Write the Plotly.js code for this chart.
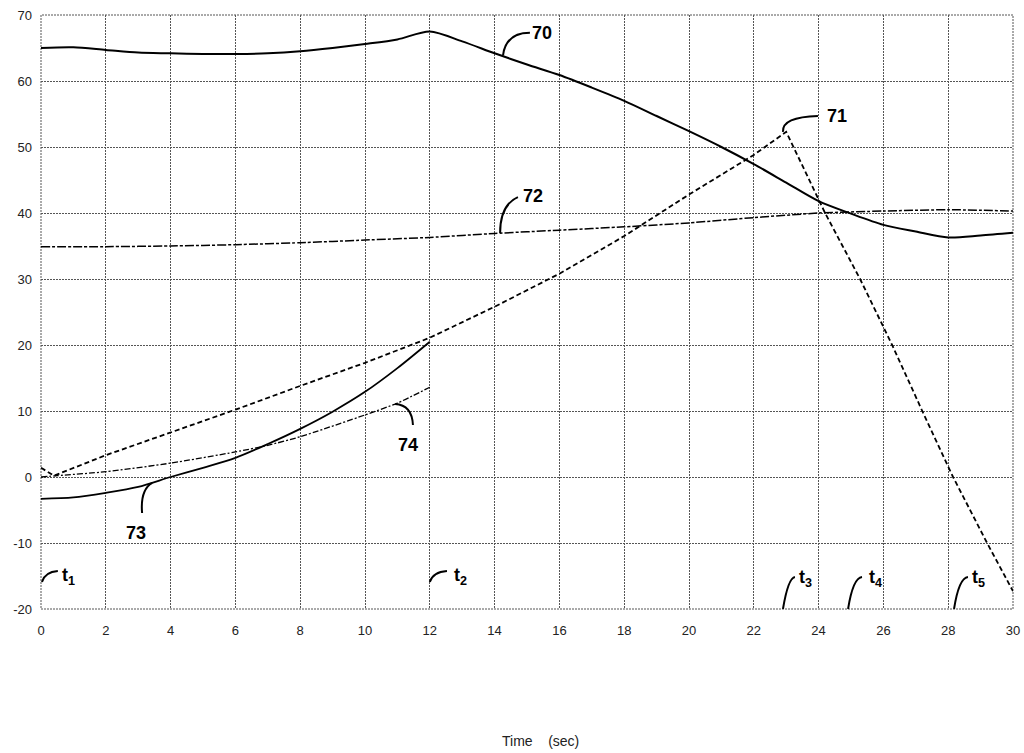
<!DOCTYPE html>
<html>
<head>
<meta charset="utf-8">
<script src="https://cdn.plot.ly/plotly-3.0.1.min.js"></script>
<style>html,body{margin:0;padding:0;background:#fff;}#chart{width:1024px;height:753px;}</style>
</head>
<body>
<div id="chart"></div>
<script>
// ---- data ----
const x70 = [0,1,2,3,4,5,6,7,8,9,10,11,12,13,14,15,16,17,18,19,20,21,22,23,24,25,26,27,28,29,30];
const y70 = [65.0,65.1,64.7,64.3,64.2,64.1,64.1,64.2,64.5,65.0,65.6,66.3,67.5,66.0,64.2,62.5,60.9,59.0,57.0,54.7,52.4,50.0,47.4,44.6,41.8,39.9,38.2,37.2,36.3,36.6,37.0];

const x71 = [0,0.4,2,4,6,8,10,12,14,16,18,20,22,23,24.2,25.28,26.27,27.2,28.15,29.2,30];
const y71 = [1.4,0.2,3.3,6.7,10.2,13.8,17.3,21.1,25.8,30.8,36.5,42.8,48.8,52.3,40,30,20,10,0,-10,-17.3];

const x72 = [0,2,4,6,8,10,12,14,16,18,20,22,24,26,28,30];
const y72 = [34.9,34.9,35.0,35.2,35.5,35.9,36.3,36.9,37.4,37.9,38.5,39.3,40.0,40.3,40.5,40.3];

const x73 = [0,1,2,3,4,5,6,7,8,9,10,11,12];
const y73 = [-3.3,-3.1,-2.4,-1.5,0,1.4,2.9,5.0,7.3,9.9,12.9,16.5,20.5];

const x74 = [0,0.5,2,4,6,7,8,10,11,12];
const y74 = [0.0,0.2,0.8,2.1,3.8,4.8,6.1,9.4,11.2,13.6];

const xTickVals = [0,2,4,6,8,10,12,14,16,18,20,22,24,26,28,30];
const xTickText = ['0','2','4','6','8','10','12','14','16','18','20','22','24','26','28','30'];
const yTickVals = [-20,-10,0,10,20,30,40,50,60,70];
const yTickText = ['-20','-10','0','10','20','30','40','50','60','70'];

const xTitle = 'Time' + '\u00a0'.repeat(4) + '(sec)';

// callout labels
const refText = ['70','71','72','73','74'];
const refX = [15.46,24.57,15.19,2.93,11.33];
const refY = [67.3,54.7,42.6,-8.5,4.85];

const tText = ['t<sub>1</sub>','t<sub>2</sub>','t<sub>3</sub>','t<sub>4</sub>','t<sub>5</sub>'];
const tX = [0.59,12.69,23.33,25.49,28.67];
const tY = [-15.0,-15.0,-15.45,-15.45,-15.45];

// leader hooks: [x0,y0, cx,cy, x1,y1]
const leaders = [
  [14.26,63.9, 14.35,67.3, 15.09,67.3],
  [22.9,52.3, 22.87,54.55, 23.98,54.7],
  [14.17,36.97, 14.17,41.2, 14.72,42.4],
  [3.12,-5.45, 3.06,-1.97, 3.43,-0.9],
  [11.48,7.88, 11.45,10.9, 10.93,11.06],
  [0.03,-15.9, 0.12,-14.4, 0.52,-14.25],
  [12.0,-15.9, 12.1,-14.4, 12.53,-14.25],
  [22.9,-20, 23.06,-15.3, 23.27,-15.15],
  [24.91,-20, 25.06,-15.3, 25.34,-15.15],
  [28.18,-20, 28.33,-15.3, 28.61,-15.15]
];

const traces = [
  {x:x70, y:y70, mode:'lines', line:{color:'#000', width:2, shape:'spline', smoothing:0.8}},
  {x:x71, y:y71, mode:'lines', line:{color:'#000', width:1.8, dash:'5px,3px'}},
  {x:x72, y:y72, mode:'lines', line:{color:'#000', width:1.5, dash:'9px,2px,3px,2px', shape:'spline', smoothing:0.5}},
  {x:x73, y:y73, mode:'lines', line:{color:'#000', width:1.8, shape:'spline', smoothing:0.8}},
  {x:x74, y:y74, mode:'lines', line:{color:'#000', width:1.3, dash:'6px,2px,2px,2px', shape:'spline', smoothing:0.6}}
];

const labelFont = {family:'Liberation Sans, Arial, sans-serif', size:18, color:'#000', weight:'bold'};
const annotations = [];
refText.forEach((t,i)=>annotations.push({x:refX[i], y:refY[i], xref:'x', yref:'y', text:t, showarrow:false,
  font:labelFont, xanchor:'center', yanchor:'middle'}));
tText.forEach((t,i)=>annotations.push({x:tX[i], y:tY[i], xref:'x', yref:'y', text:t, showarrow:false,
  font:labelFont, xanchor:'left', yanchor:'middle'}));
// x-axis title (placed slightly right of centre, as in the reference)
annotations.push({x:0.5134, y:-0.2222, xref:'paper', yref:'paper', text:xTitle, showarrow:false,
  font:{family:'Liberation Sans, Arial, sans-serif', size:14, color:'#222'}, xanchor:'center', yanchor:'middle'});

const shapes = leaders.map(l=>({type:'path', xref:'x', yref:'y',
  path:`M ${l[0]},${l[1]} Q ${l[2]},${l[3]} ${l[4]},${l[5]}`, line:{color:'#000', width:2}}));
shapes.push({type:'rect', xref:'paper', yref:'paper', x0:0, y0:0, x1:1, y1:1, line:{color:'#555', width:1, dash:'2px,1px'}, layer:'below'});

const layout = {
  width:1024, height:753,
  margin:{l:41, r:11, t:15, b:144},
  paper_bgcolor:'#fff', plot_bgcolor:'#fff',
  showlegend:false,
  font:{family:'Liberation Sans, Arial, sans-serif', size:13, color:'#222'},
  xaxis:{range:[0,30], tickmode:'array', tickvals:xTickVals, ticktext:xTickText,
    showgrid:true, gridcolor:'#555', gridwidth:1, griddash:'2px,1px', zeroline:false, showline:false,
    ticks:'', ticklabelstandoff:12, tickfont:{size:13, color:'#222'}, automargin:false},
  yaxis:{range:[-20,70], tickmode:'array', tickvals:yTickVals, ticktext:yTickText,
    showgrid:true, gridcolor:'#555', gridwidth:1, griddash:'2px,1px', zeroline:false, showline:false,
    ticks:'', ticklabelstandoff:8, tickfont:{size:13, color:'#222'}, automargin:false},
  annotations:annotations,
  shapes:shapes
};

Plotly.newPlot('chart', traces, layout, {displayModeBar:false});
</script>
</body>
</html>
